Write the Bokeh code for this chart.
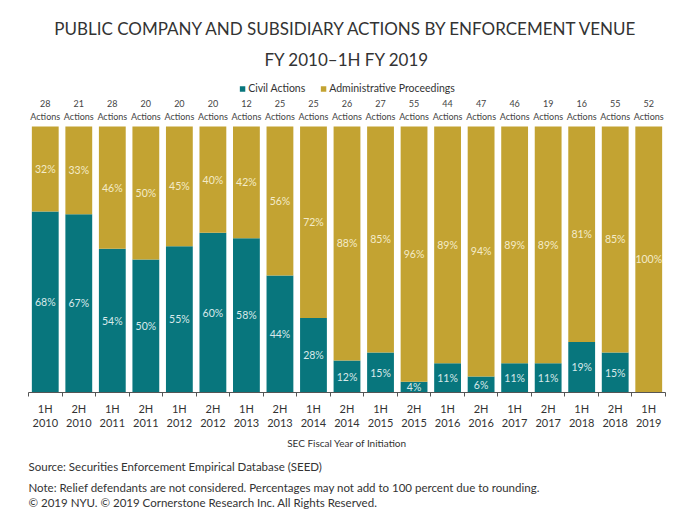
from bokeh.plotting import figure
from bokeh.models import ColumnDataSource, FixedTicker, Legend, LegendItem, Title
from bokeh.core.properties import value
from bokeh.embed import file_html
from bokeh.resources import INLINE

halves = ["1H", "2H", "1H", "2H", "1H", "2H", "1H", "2H", "1H", "2H",
          "1H", "2H", "1H", "2H", "1H", "2H", "1H", "2H", "1H"]
years = ["2010", "2010", "2011", "2011", "2012", "2012", "2013", "2013", "2014", "2014",
         "2015", "2015", "2016", "2016", "2017", "2017", "2018", "2018", "2019"]
counts = [28, 21, 28, 20, 20, 20, 12, 25, 25, 26, 27, 55, 44, 47, 46, 19, 16, 55, 52]
civil = [68, 67, 54, 50, 55, 60, 58, 44, 28, 12, 15, 4, 11, 6, 11, 11, 19, 15, 0]
admin = [32, 33, 46, 50, 45, 40, 42, 56, 72, 88, 85, 96, 89, 94, 89, 89, 81, 85, 100]

TEAL = "#08767D"
GOLD = "#C3A332"
FONT = "Lato"

n = len(counts)
xs = list(range(n))
src = ColumnDataSource(dict(
    x=xs, civil=civil, admin=admin,
    top=[c + a for c, a in zip(civil, admin)],
    civ_mid=[c / 2 for c in civil],
    adm_mid=[c + a / 2 for c, a in zip(civil, admin)],
    civ_lbl=[f"{c}%" if c > 0 else "" for c in civil],
    adm_lbl=[f"{a}%" if a > 0 else "" for a in admin],
    cnt_lbl=[f"{c}\nActions" for c in counts],
))

p = figure(frame_width=637, frame_height=314, x_range=(-0.5, n - 0.5), y_range=(0, 118),
           output_backend="svg", toolbar_location=None,
           min_border_left=28, min_border_right=19, min_border_top=78, min_border_bottom=126)
p.outline_line_color = None
p.grid.visible = False
p.yaxis.visible = False

civ_r = p.vbar(x="x", bottom=0, top="civil", width=0.8, source=src, fill_color=TEAL, line_color=None)
adm_r = p.vbar(x="x", bottom="civil", top="top", width=0.8, source=src, fill_color=GOLD, line_color=None)

p.text(x="x", y="civ_mid", text="civ_lbl", source=src, text_align="center", text_baseline="middle",
       text_font=value(FONT), text_font_size="10.5px", text_color="#D9E9EA")
p.text(x="x", y="adm_mid", text="adm_lbl", source=src, text_align="center", text_baseline="middle",
       text_font=value(FONT), text_font_size="10.5px", text_color="#F4EBC8")
p.text(x="x", y="top", text="cnt_lbl", source=src, text_align="center", text_baseline="bottom",
       y_offset=-4, text_font=value(FONT), text_font_size="9px", text_color="#444444",
       text_line_height=1.2)

legend = Legend(items=[LegendItem(label="Civil Actions", renderers=[civ_r]),
                       LegendItem(label="Administrative Proceedings", renderers=[adm_r])],
                location="top_center", orientation="horizontal",
                background_fill_alpha=0, border_line_color=None,
                label_text_font=FONT, label_text_font_size="10.5px", label_text_color="#333333",
                glyph_width=7, glyph_height=7, label_height=16, padding=0, margin=2, spacing=14,
                label_standoff=3)
p.add_layout(legend)

ax = p.xaxis[0]
ax.ticker = FixedTicker(ticks=xs, minor_ticks=[i - 0.5 for i in range(n + 1)])
ax.major_label_overrides = {i: f"{h}\n{y}" for i, (h, y) in enumerate(zip(halves, years))}
ax.major_tick_out = 0
ax.major_tick_in = 0
ax.minor_tick_out = 4
ax.minor_tick_in = 0
ax.minor_tick_line_color = "#555555"
ax.axis_line_color = "#555555"
ax.major_label_text_font = FONT
ax.major_label_text_font_size = "11px"
ax.major_label_text_color = "#333333"
ax.major_label_text_line_height = 1.15
ax.major_label_standoff = 5
ax.axis_label = "SEC Fiscal Year of Initiation"
ax.axis_label_text_font = FONT
ax.axis_label_text_font_size = "10px"
ax.axis_label_text_font_style = "normal"
ax.axis_label_text_color = "#333333"
ax.axis_label_standoff = 5

foot = ["Source:  Securities Enforcement Empirical Database (SEED)",
        "Note:  Relief defendants are not considered. Percentages may not add to 100 percent due to rounding.",
        "\u00a9 2019 NYU. \u00a9 2019 Cornerstone Research Inc. All Rights Reserved."]
foot_standoff = [11, 0, 0]
for t, s in zip(foot, foot_standoff):
    p.add_layout(Title(text=t, align="left", text_font=FONT, text_font_size="11.5px",
                       text_font_style="normal", text_color="#333333",
                       standoff=s, offset=0), "below")

title_lines = ["PUBLIC COMPANY AND SUBSIDIARY ACTIONS BY ENFORCEMENT VENUE",
               "FY 2010\u20131H FY 2019"]
for i, t in enumerate(reversed(title_lines)):
    p.add_layout(Title(text=t, align="center", text_font=FONT, text_font_size="17px",
                       text_font_style="normal", text_color="#333333",
                       standoff=17 if i == 0 else 0), "above")

open("out.html", "w").write(file_html(p, INLINE))
